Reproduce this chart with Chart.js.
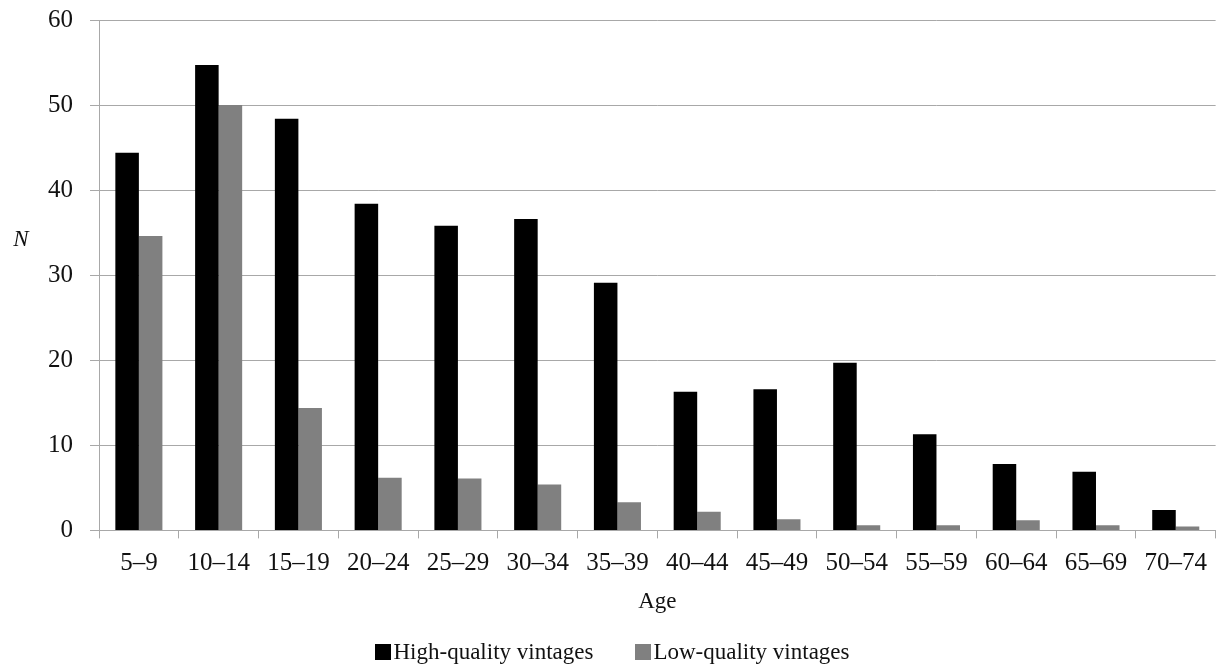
<!DOCTYPE html>
<html>
<head>
<meta charset="utf-8">
<script src="https://cdn.jsdelivr.net/npm/chart.js@4/dist/chart.umd.min.js"></script>
<style>
  html, body { margin: 0; padding: 0; background: #ffffff; }
  #wrap { width: 1217px; height: 671px; position: relative; }
</style>
</head>
<body>
<div id="wrap"><canvas id="c"></canvas></div>
<script>
const categories = ["5–9","10–14","15–19","20–24","25–29","30–34","35–39","40–44","45–49","50–54","55–59","60–64","65–69","70–74"];
const highQuality = [44.4, 54.7, 48.4, 38.4, 35.8, 36.6, 29.1, 16.3, 16.6, 19.7, 11.3, 7.8, 6.9, 2.4];
const lowQuality  = [34.6, 50.0, 14.4, 6.2, 6.1, 5.4, 3.3, 2.2, 1.3, 0.6, 0.6, 1.2, 0.6, 0.45];
const yTicks = [0, 10, 20, 30, 40, 50, 60];
const seriesNames = ["High-quality vintages", "Low-quality vintages"];
const seriesColors = ["#000000", "#808080"];
const xTitle = "Age";
const yTitle = "N";

const FONT = "'Liberation Serif', 'Times New Roman', serif";
const FS_TICK = 25;
const FS_TEXT = 23;
const GRID = "#a8a8a8";
const TEXT = "#111111";

// Horizontal italic "N" y-axis title
const yTitlePlugin = {
  id: 'yTitleHoriz',
  afterDraw(chart) {
    const ctx = chart.ctx;
    const area = chart.chartArea;
    ctx.save();
    ctx.font = "italic " + FS_TEXT + "px " + FONT;
    ctx.fillStyle = TEXT;
    ctx.textAlign = "center";
    ctx.textBaseline = "middle";
    const y = area.top + (area.bottom - area.top) * 0.43;
    ctx.fillText(yTitle, 21, y);
    ctx.restore();
  }
};

// Compact legend: square swatch immediately followed by its label
const legendPlugin = {
  id: 'compactLegend',
  afterDraw(chart) {
    const ctx = chart.ctx;
    const ds = chart.data.datasets;
    ctx.save();
    ctx.font = FS_TEXT + "px " + FONT;
    ctx.textBaseline = "middle";
    ctx.textAlign = "left";
    const box = 16, boxGap = 2, itemGap = 42;
    const widths = ds.map(d => box + boxGap + ctx.measureText(d.label).width);
    const total = widths.reduce((a, b) => a + b, 0) + itemGap * (ds.length - 1);
    let x = chart.width / 2 + 4 - total / 2;
    const cy = 652;
    ds.forEach((d, i) => {
      ctx.fillStyle = d.backgroundColor;
      ctx.fillRect(Math.round(x), cy - box / 2, box, box);
      ctx.fillStyle = TEXT;
      ctx.fillText(d.label, x + box + boxGap, cy + 1);
      x += widths[i] + itemGap;
    });
    ctx.restore();
  }
};

new Chart(document.getElementById('c'), {
  type: 'bar',
  data: {
    labels: categories,
    datasets: [
      { label: seriesNames[0], data: highQuality, backgroundColor: seriesColors[0], borderWidth: 0 },
      { label: seriesNames[1], data: lowQuality, backgroundColor: seriesColors[1], borderWidth: 0 }
    ]
  },
  options: {
    responsive: true,
    maintainAspectRatio: false,
    animation: false,
    devicePixelRatio: 1,
    layout: { padding: { left: 31, right: 0, top: 0, bottom: 55 } },
    datasets: { bar: { categoryPercentage: 0.59, barPercentage: 1.0 } },
    plugins: {
      tooltip: { enabled: false },
      legend: { display: false }
    },
    scales: {
      x: {
        grid: { display: true, drawOnChartArea: false, drawTicks: true, tickLength: 8, color: GRID, offset: true },
        border: { display: true, color: GRID, width: 1 },
        ticks: { font: { family: FONT, size: FS_TICK }, color: TEXT, padding: 10, maxRotation: 0, autoSkip: false },
        title: { display: true, text: xTitle, font: { family: FONT, size: FS_TEXT }, color: TEXT, padding: { top: 0, bottom: 0 } }
      },
      y: {
        min: yTicks[0],
        max: yTicks[yTicks.length - 1],
        afterBuildTicks(scale) { scale.ticks = yTicks.map(v => ({ value: v })); },
        afterFit(scale) { scale.paddingTop = 20; },
        grid: { display: true, drawTicks: true, tickLength: 9, color: GRID, lineWidth: 1 },
        border: { display: true, color: GRID, width: 1 },
        ticks: { font: { family: FONT, size: FS_TICK }, color: TEXT, padding: 17 }
      }
    }
  },
  plugins: [yTitlePlugin, legendPlugin]
});
</script>
</body>
</html>
